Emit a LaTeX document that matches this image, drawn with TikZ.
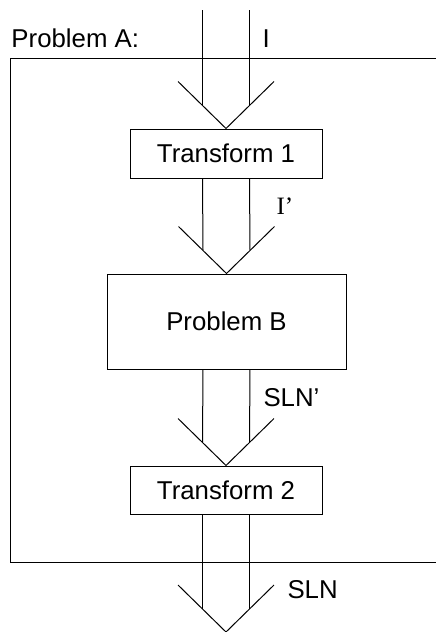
\documentclass[tikz,border=0pt]{standalone}
\usepackage{fontspec}
\setmainfont{Liberation Sans}
\newfontfamily\serifrm{Liberation Serif}

\begin{document}
\begin{tikzpicture}[x=1pt,y=-1pt,line width=1pt,
  box/.style={draw,line width=1pt,inner sep=0pt,font=\fontsize{25.8}{30}\selectfont},
  lbl/.style={anchor=base west,inner sep=0pt,font=\fontsize{25.8}{30}\selectfont},
  port/.style={inner sep=0pt,outer sep=0pt,minimum size=0pt}]
% 436 x 632 px, one unit per pixel
\useasboundingbox (0,0) rectangle (436,632);
\path[draw,line cap=butt,line join=miter] (440,58) -- (10.5,58) -- (10.5,562) -- (440,562);
\node[lbl] (lblA) at (11,47) {Problem A:};
\node[port] (in) at (226,10) {};
\node[box,minimum width=192pt,minimum height=49pt] (t1) at (226,153.5) {Transform 1};
\node[box,minimum width=239pt,minimum height=95pt] (pb) at (226.5,321.5) {Problem B};
\node[box,minimum width=192pt,minimum height=48pt] (t2) at (226,490) {Transform 2};
\node[port] (out) at (226,632) {};
% the two-line flows and their open heads
\foreach \a/\b in {in/t1,t1/pb,pb/t2,t2/out}
  \foreach \s in {-23.5,23.5}
    \draw ([xshift=\s pt]\a.south) -- ([xshift=\s pt,yshift=23.5pt]\b.north);
\foreach \h in {t1,pb,t2,out}
  \draw (\h.north) ++(-48,-47) -- (\h.north) -- ++(48,-47);
\node[lbl] (lblI) at (262,47) {I};
\node[lbl,font=\fontsize{25}{30}\serifrm] (lblIp) at (276,214) {I’};
\node[lbl] (lblSp) at (263,406) {SLN’};
\node[lbl] (lblS) at (287,598) {SLN};
\end{tikzpicture}
\end{document}
